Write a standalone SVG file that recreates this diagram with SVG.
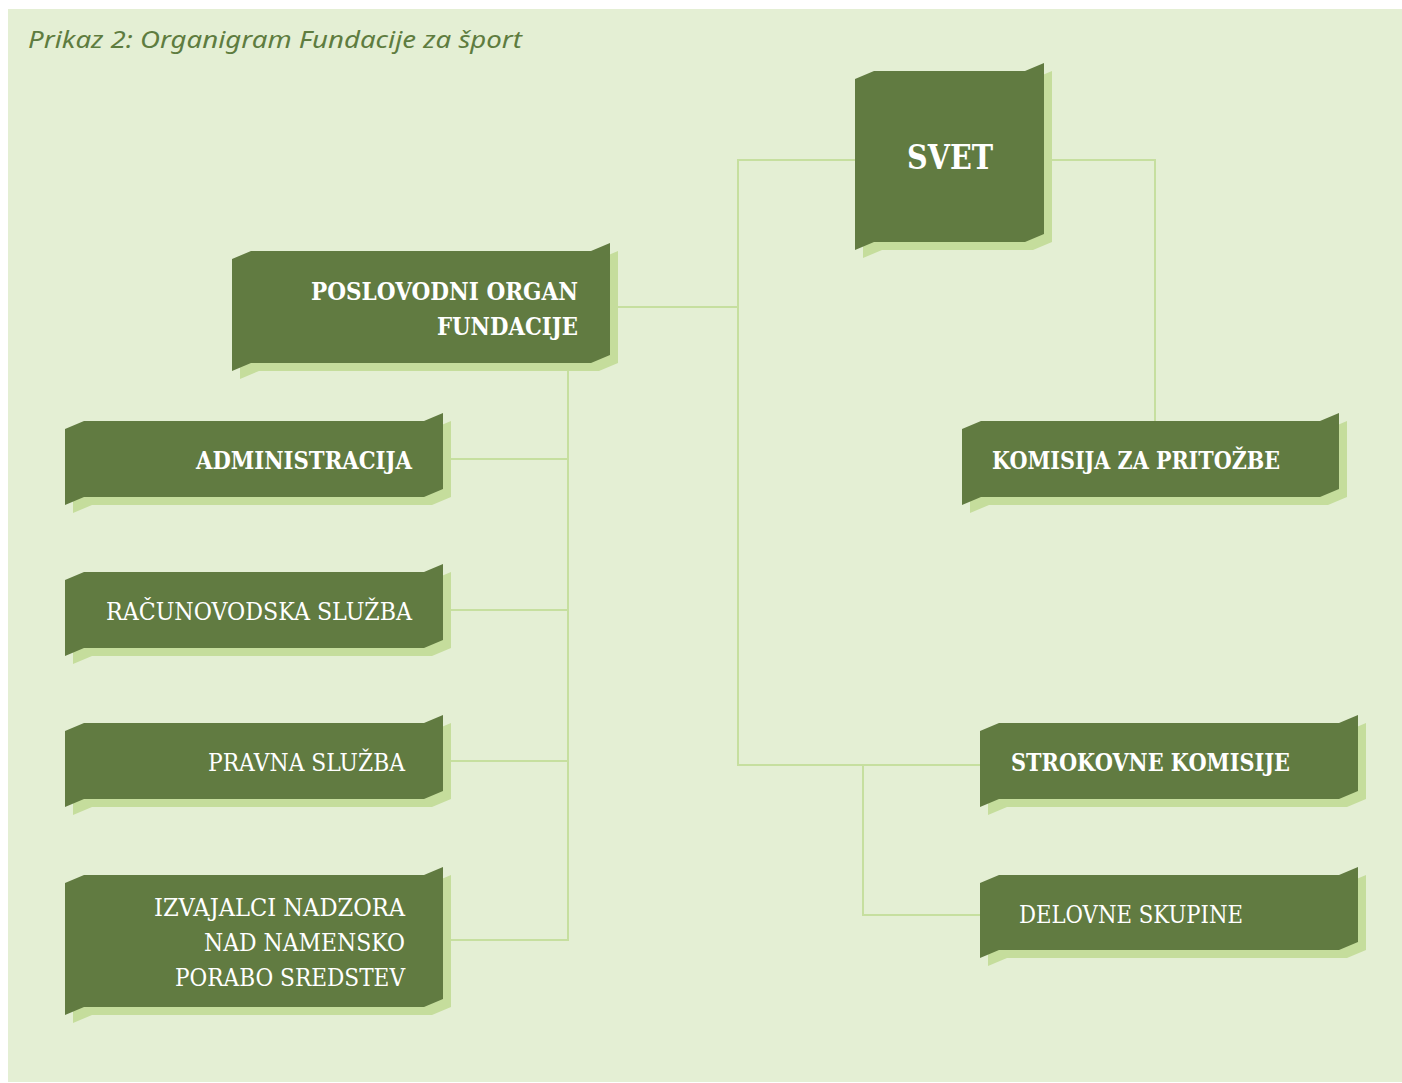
<svg xmlns="http://www.w3.org/2000/svg" width="1402" height="1083" viewBox="0 0 1402 1083">
<style>
.bg{fill:#e4efd4}
.bx{fill:#617b41}
.sh{fill:#c5dd9c}
.ln{stroke:#c6df9f;stroke-width:2;fill:none}
.t{font-family:"DejaVu Serif","Liberation Serif",serif;fill:#ffffff;font-size:24px}
.b{font-weight:bold}
.l{font-weight:normal}
.e{text-anchor:end}
.big{font-size:33px}
.title{font-family:"Noto Sans","Open Sans",sans-serif;font-style:italic;font-size:24px;fill:#5e7c3f}
</style>
<rect x="0" y="0" width="1402" height="1083" fill="#ffffff"/>
<rect class="bg" x="8" y="9" width="1394" height="1073"/>
<text class="title" x="28" y="48" textLength="494" lengthAdjust="spacingAndGlyphs">Prikaz 2: Organigram Fundacije za šport</text>
<g id="connectors">
<polyline class="ln" points="855,160 738,160 738,765 980,765"/>
<line class="ln" x1="610" y1="307" x2="738" y2="307"/>
<polyline class="ln" points="1044,160 1155,160 1155,421"/>
<polyline class="ln" points="863,765 863,915 980,915"/>
<line class="ln" x1="568" y1="363" x2="568" y2="941"/>
<line class="ln" x1="443" y1="459" x2="568" y2="459"/>
<line class="ln" x1="443" y1="610" x2="568" y2="610"/>
<line class="ln" x1="443" y1="761" x2="568" y2="761"/>
<line class="ln" x1="443" y1="940" x2="568" y2="940"/>
</g>
<g id="svet">
<polygon class="sh" transform="translate(8,8)" points="855,79 874,71 1025,71 1044,63 1044,234 1025,242 874,242 855,250"/>
<polygon class="bx" points="855,79 874,71 1025,71 1044,63 1044,234 1025,242 874,242 855,250"/>
<text class="t b big" x="907" y="169" textLength="86" lengthAdjust="spacingAndGlyphs">SVET</text>
</g>
<g id="poslovodni">
<polygon class="sh" transform="translate(8,8)" points="232,259 251,251 591,251 610,243 610,355 591,363 251,363 232,371"/>
<polygon class="bx" points="232,259 251,251 591,251 610,243 610,355 591,363 251,363 232,371"/>
<text class="t b e" x="578" y="300" textLength="267" lengthAdjust="spacingAndGlyphs">POSLOVODNI ORGAN</text>
<text class="t b e" x="578" y="335" textLength="141" lengthAdjust="spacingAndGlyphs">FUNDACIJE</text>
</g>
<g id="administracija">
<polygon class="sh" transform="translate(8,8)" points="65,429 84,421 424,421 443,413 443,489 424,497 84,497 65,505"/>
<polygon class="bx" points="65,429 84,421 424,421 443,413 443,489 424,497 84,497 65,505"/>
<text class="t b e" x="412" y="469" textLength="216" lengthAdjust="spacingAndGlyphs">ADMINISTRACIJA</text>
</g>
<g id="racunovodska">
<polygon class="sh" transform="translate(8,8)" points="65,580 84,572 424,572 443,564 443,640 424,648 84,648 65,656"/>
<polygon class="bx" points="65,580 84,572 424,572 443,564 443,640 424,648 84,648 65,656"/>
<text class="t l e" x="412" y="620" textLength="306" lengthAdjust="spacingAndGlyphs">RAČUNOVODSKA SLUŽBA</text>
</g>
<g id="pravna">
<polygon class="sh" transform="translate(8,8)" points="65,731 84,723 424,723 443,715 443,791 424,799 84,799 65,807"/>
<polygon class="bx" points="65,731 84,723 424,723 443,715 443,791 424,799 84,799 65,807"/>
<text class="t l e" x="405" y="771" textLength="197" lengthAdjust="spacingAndGlyphs">PRAVNA SLUŽBA</text>
</g>
<g id="izvajalci">
<polygon class="sh" transform="translate(8,8)" points="65,883 84,875 424,875 443,867 443,999 424,1007 84,1007 65,1015"/>
<polygon class="bx" points="65,883 84,875 424,875 443,867 443,999 424,1007 84,1007 65,1015"/>
<text class="t l e" x="405" y="916" textLength="251" lengthAdjust="spacingAndGlyphs">IZVAJALCI NADZORA</text>
<text class="t l e" x="405" y="951" textLength="201" lengthAdjust="spacingAndGlyphs">NAD NAMENSKO</text>
<text class="t l e" x="405" y="986" textLength="230" lengthAdjust="spacingAndGlyphs">PORABO SREDSTEV</text>
</g>
<g id="komisija">
<polygon class="sh" transform="translate(8,8)" points="962,429 981,421 1320,421 1339,413 1339,489 1320,497 981,497 962,505"/>
<polygon class="bx" points="962,429 981,421 1320,421 1339,413 1339,489 1320,497 981,497 962,505"/>
<text class="t b" x="992" y="469" textLength="288" lengthAdjust="spacingAndGlyphs">KOMISIJA ZA PRITOŽBE</text>
</g>
<g id="strokovne">
<polygon class="sh" transform="translate(8,8)" points="980,731 999,723 1339,723 1358,715 1358,791 1339,799 999,799 980,807"/>
<polygon class="bx" points="980,731 999,723 1339,723 1358,715 1358,791 1339,799 999,799 980,807"/>
<text class="t b" x="1011" y="771" textLength="279" lengthAdjust="spacingAndGlyphs">STROKOVNE KOMISIJE</text>
</g>
<g id="delovne">
<polygon class="sh" transform="translate(8,8)" points="980,883 999,875 1339,875 1358,867 1358,942 1339,950 999,950 980,958"/>
<polygon class="bx" points="980,883 999,875 1339,875 1358,867 1358,942 1339,950 999,950 980,958"/>
<text class="t l" x="1019" y="923" textLength="224" lengthAdjust="spacingAndGlyphs">DELOVNE SKUPINE</text>
</g>
</svg>
